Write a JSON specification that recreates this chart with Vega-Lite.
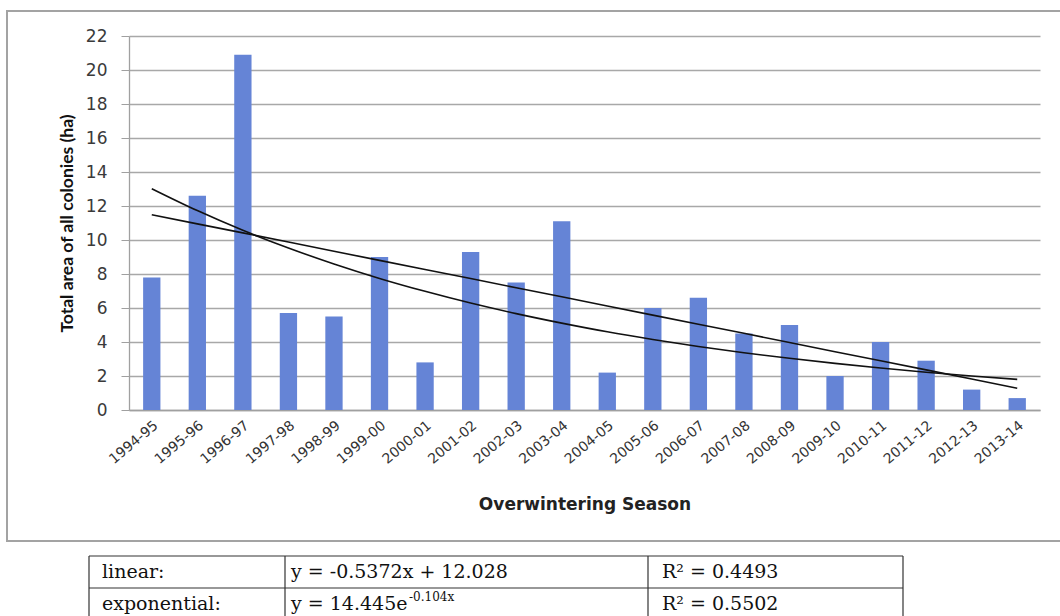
{
  "$schema": "https://vega.github.io/schema/vega-lite/v6.json",
  "padding": {"left": 6, "top": 10, "right": 0, "bottom": 0},
  "autosize": {"type": "pad"},
  "background": "white",
  "spacing": 13,
  "config": {"view": {"stroke": null}},
  "datasets": {
    "seasons": [
      {"season": "1994-95", "area": 7.8, "linear": 11.49, "exponential": 13.02},
      {"season": "1995-96", "area": 12.6, "linear": 10.95, "exponential": 11.73},
      {"season": "1996-97", "area": 20.9, "linear": 10.42, "exponential": 10.57},
      {"season": "1997-98", "area": 5.7, "linear": 9.88, "exponential": 9.53},
      {"season": "1998-99", "area": 5.5, "linear": 9.34, "exponential": 8.59},
      {"season": "1999-00", "area": 9.0, "linear": 8.80, "exponential": 7.74},
      {"season": "2000-01", "area": 2.8, "linear": 8.27, "exponential": 6.98},
      {"season": "2001-02", "area": 9.3, "linear": 7.73, "exponential": 6.29},
      {"season": "2002-03", "area": 7.5, "linear": 7.19, "exponential": 5.67},
      {"season": "2003-04", "area": 11.1, "linear": 6.66, "exponential": 5.11},
      {"season": "2004-05", "area": 2.2, "linear": 6.12, "exponential": 4.60},
      {"season": "2005-06", "area": 6.0, "linear": 5.58, "exponential": 4.15},
      {"season": "2006-07", "area": 6.6, "linear": 5.04, "exponential": 3.74},
      {"season": "2007-08", "area": 4.5, "linear": 4.51, "exponential": 3.37},
      {"season": "2008-09", "area": 5.0, "linear": 3.97, "exponential": 3.04},
      {"season": "2009-10", "area": 2.0, "linear": 3.43, "exponential": 2.74},
      {"season": "2010-11", "area": 4.0, "linear": 2.90, "exponential": 2.47},
      {"season": "2011-12", "area": 2.9, "linear": 2.36, "exponential": 2.22},
      {"season": "2012-13", "area": 1.2, "linear": 1.82, "exponential": 2.00},
      {"season": "2013-14", "area": 0.7, "linear": 1.28, "exponential": 1.80}
    ],
    "cells": [
      {"row": 0, "col": 0, "text": "linear:"},
      {"row": 0, "col": 1, "text": "y = -0.5372x + 12.028"},
      {"row": 0, "col": 2, "text": "R² = 0.4493"},
      {"row": 1, "col": 0, "text": "exponential:"},
      {"row": 1, "col": 1, "text": "y = 14.445e", "sup": "-0.104x"},
      {"row": 1, "col": 2, "text": "R² = 0.5502"}
    ],
    "vlines": [{"b": 0}, {"b": 1}, {"b": 2}, {"b": 3}],
    "hlines": [{"b": -0.5}, {"b": 0.5}, {"b": 1.5}]
  },
  "vconcat": [
    {
      "width": 1056,
      "height": 530,
      "view": {"stroke": "#a3a3a3", "strokeWidth": 2},
      "data": {"name": "seasons"},
      "encoding": {
        "x": {
          "field": "season",
          "type": "nominal",
          "sort": null,
          "scale": {"range": [122, 1033], "paddingInner": 0.62, "paddingOuter": 0.31},
          "axis": {
            "offset": -131,
            "labelAngle": -40,
            "labelFont": "DejaVu Sans",
            "labelFontSize": 14,
            "labelColor": "#333333",
            "labelOverlap": false,
            "labelPadding": 8,
            "ticks": false,
            "grid": false,
            "domainColor": "#a0a0a0",
            "domainWidth": 1.3,
            "title": "Overwintering Season",
            "titleFont": "DejaVu Sans",
            "titleFontSize": 17,
            "titleFontWeight": "bold",
            "titleColor": "#222222",
            "titlePadding": 30
          }
        }
      },
      "layer": [
        {
          "mark": {"type": "bar", "color": "#6584d6"},
          "encoding": {
            "y": {
              "field": "area",
              "type": "quantitative",
              "title": "Total area of all colonies (ha)",
              "scale": {"domain": [0, 22], "range": [399, 25], "nice": false, "zero": true},
              "axis": {
                "values": [0, 2, 4, 6, 8, 10, 12, 14, 16, 18, 20, 22],
                "offset": -122,
                "grid": true,
                "gridColor": "#a8a8a8",
                "gridWidth": 1.3,
                "domainColor": "#a0a0a0",
                "domainWidth": 1.3,
                "tickColor": "#a0a0a0",
                "tickSize": 8,
                "labelFont": "DejaVu Sans",
                "labelFontSize": 17,
                "labelColor": "#3a3a3a",
                "labelPadding": 14,
                "titleFont": "Lato",
                "titleFontSize": 17.5,
                "titleFontWeight": "bold",
                "titleColor": "#111111",
                "titlePadding": 9
              }
            }
          }
        },
        {
          "mark": {"type": "line", "color": "#111111", "strokeWidth": 1.6},
          "encoding": {
            "y": {"field": "linear", "type": "quantitative", "title": "Total area of all colonies (ha)"}
          }
        },
        {
          "mark": {"type": "line", "color": "#111111", "strokeWidth": 1.6, "interpolate": "monotone"},
          "encoding": {
            "y": {"field": "exponential", "type": "quantitative", "title": "Total area of all colonies (ha)"}
          }
        }
      ]
    },
    {
      "width": 1054,
      "height": 64,
      "layer": [
        {
          "data": {"name": "vlines"},
          "mark": {"type": "rule", "color": "#333333", "strokeWidth": 1.2},
          "encoding": {
            "x": {"field": "b", "type": "quantitative", "scale": {"domain": [0, 1, 2, 3], "range": [82, 278, 641, 896], "nice": false, "zero": false}, "axis": null},
            "y": {"datum": -0.5, "type": "quantitative", "scale": {"domain": [-0.5, 1.5], "reverse": true, "nice": false, "zero": false}, "axis": null},
            "y2": {"datum": 1.5}
          }
        },
        {
          "data": {"name": "hlines"},
          "mark": {"type": "rule", "color": "#333333", "strokeWidth": 1.2},
          "encoding": {
            "y": {"field": "b", "type": "quantitative", "axis": null},
            "x": {"datum": 0, "type": "quantitative", "axis": null},
            "x2": {"datum": 3}
          }
        },
        {
          "data": {"name": "cells"},
          "transform": [{"filter": "datum.col == 0"}],
          "mark": {"type": "text", "align": "left", "baseline": "alphabetic", "dx": 13, "dy": 6, "font": "DejaVu Serif", "fontSize": 19, "color": "#111111"},
          "encoding": {
            "x": {"field": "col", "type": "quantitative", "axis": null},
            "y": {"field": "row", "type": "quantitative", "axis": null},
            "text": {"field": "text"}
          }
        },
        {
          "data": {"name": "cells"},
          "transform": [{"filter": "datum.col == 1"}],
          "mark": {"type": "text", "align": "left", "baseline": "alphabetic", "dx": 6, "dy": 6, "font": "DejaVu Serif", "fontSize": 19, "color": "#111111"},
          "encoding": {
            "x": {"field": "col", "type": "quantitative", "axis": null},
            "y": {"field": "row", "type": "quantitative", "axis": null},
            "text": {"field": "text"}
          }
        },
        {
          "data": {"name": "cells"},
          "transform": [{"filter": "datum.sup != null"}],
          "mark": {"type": "text", "align": "left", "baseline": "alphabetic", "dx": 124, "dy": -3, "font": "DejaVu Serif", "fontSize": 12, "color": "#111111"},
          "encoding": {
            "x": {"field": "col", "type": "quantitative", "axis": null},
            "y": {"field": "row", "type": "quantitative", "axis": null},
            "text": {"field": "sup"}
          }
        },
        {
          "data": {"name": "cells"},
          "transform": [{"filter": "datum.col == 2"}],
          "mark": {"type": "text", "align": "left", "baseline": "alphabetic", "dx": 14, "dy": 6, "font": "DejaVu Serif", "fontSize": 19, "color": "#111111"},
          "encoding": {
            "x": {"field": "col", "type": "quantitative", "axis": null},
            "y": {"field": "row", "type": "quantitative", "axis": null},
            "text": {"field": "text"}
          }
        }
      ]
    }
  ]
}
